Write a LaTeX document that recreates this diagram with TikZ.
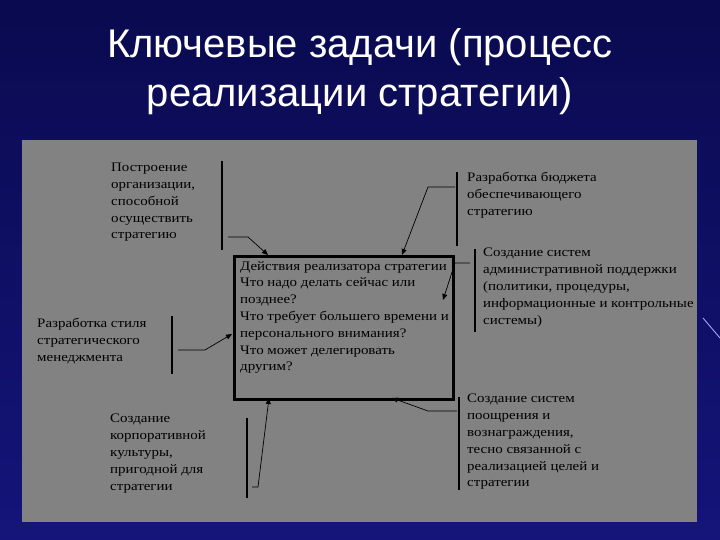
\documentclass[tikz,border=0pt]{standalone}
\usepackage{fontspec}
\setmainfont{Liberation Serif}[FakeStretch=1.15]
\newfontfamily\titlefont{Liberation Sans}
\usetikzlibrary{arrows.meta}
\definecolor{bgblue}{HTML}{14147A}
\definecolor{bgdark}{HTML}{0A0A50}
\definecolor{panel}{HTML}{828282}
\begin{document}
\begin{tikzpicture}[x=1pt,y=-1pt,
  lbl/.style={anchor=north west,align=left,font=\fontsize{13}{16.8}\selectfont,inner sep=0pt},
  bar/.style={line width=2.2pt},
  conn/.style={line width=0.7pt,-{Triangle[length=6pt,width=5pt]}}]
\useasboundingbox (0,0) rectangle (720,540);
\shade[top color=bgdark,bottom color=bgblue] (0,0) rectangle (720,540);
\draw[white!70!blue,line width=0.8pt] (703,318) -- (720,338);
\node[font=\titlefont\fontsize{40}{49}\selectfont,text=white,align=center] (title) at (360,72) {Ключевые задачи (процесс\\реализации стратегии)};
\fill[panel] (22,140) rectangle (697,522);
\node[draw,line width=2.8pt,minimum width=219pt,minimum height=143pt,anchor=north west,inner sep=0pt] (box) at (233,255) {};
\node[lbl] (t0) at (240,261) {Действия реализатора стратегии\\Что надо делать сейчас или\\позднее?\\Что требует большего времени и\\персонального внимания?\\Что может делегировать\\другим?};
\node[lbl] (a) at (111,163) {Построение\\организации,\\способной\\осуществить\\стратегию};
\draw[bar] (222,161) -- (222,250);
\coordinate (a1) at (228,237);
\draw[conn] (a1) -- (248,237) -- (268,255);
\node[lbl] (b) at (37,318) {Разработка стиля\\стратегического\\менеджмента};
\draw[bar] (172,316) -- (172,374);
\coordinate (b1) at (178,350);
\draw[conn] (b1) -- (205,350) -- (232,334);
\node[lbl] (c) at (467,172) {Разработка бюджета\\обеспечивающего\\стратегию};
\draw[bar] (457,172) -- (457,246);
\coordinate (c1) at (455,187);
\draw[conn] (c1) -- (428,187) -- (402,255);
\node[lbl] (d) at (483,248) {Создание систем\\административной поддержки\\(политики, процедуры,\\информационные и контрольные\\системы)};
\draw[bar] (475,249) -- (475,332);
\coordinate (d1) at (470,263);
\draw[conn] (d1) -- (455,263) -- (443,300);
\node[lbl] (e) at (467,394) {Создание систем\\поощрения и\\вознаграждения,\\тесно связанной с\\реализацией целей и\\стратегии};
\draw[bar] (459,397) -- (459,490);
\coordinate (e1) at (457,411);
\draw[conn] (e1) -- (428,411) -- (392,398);
\node[lbl] (f) at (110,414) {Создание\\корпоративной\\культуры,\\пригодной для\\стратегии};
\draw[bar] (247,418) -- (247,498);
\coordinate (f1) at (252,487);
\draw[conn] (f1) -- (258,487) -- (269,398);
\end{tikzpicture}
\end{document}
